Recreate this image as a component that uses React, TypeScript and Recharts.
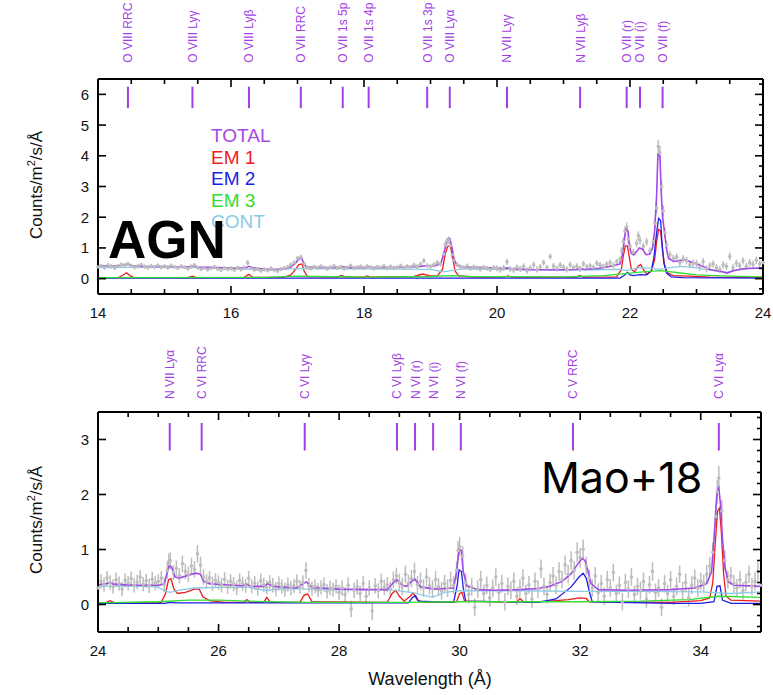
import React from 'react';
import {
  ComposedChart,
  Line,
  Scatter,
  ErrorBar,
  XAxis,
  YAxis,
  ReferenceLine,
  Legend
} from 'recharts';

const FONT = '"Liberation Sans", Arial, Helvetica, sans-serif';
const GRAY = '#bdbdbd';
const ID_COLOR = '#a23fe4';
// drawing order: first is at the back
const SERIES = [
  { key: 'em1', name: 'EM 1', color: '#ee1d1d', width: 1.3 },
  { key: 'em2', name: 'EM 2', color: '#1e1ee6', width: 1.3 },
  { key: 'em3', name: 'EM 3', color: '#33dd33', width: 1.3 },
  { key: 'cont', name: 'CONT', color: '#8ccbe6', width: 1.3 },
  { key: 'total', name: 'TOTAL', color: '#a548e6', width: 1.6 },
];
const LEGEND_ORDER = ['TOTAL', 'EM 1', 'EM 2', 'EM 3', 'CONT'];

// ---- axes ----
const topXTicks = [14, 14.5, 15, 15.5, 16, 16.5, 17, 17.5, 18, 18.5, 19, 19.5, 20, 20.5, 21, 21.5, 22, 22.5, 23, 23.5, 24];
const topXMajors = [14, 16, 18, 20, 22, 24];
const topYTicks = [0, 1, 2, 3, 4, 5, 6];
const topYMinor = [-0.333, 0, 0.333, 0.667, 1, 1.333, 1.667, 2, 2.333, 2.667, 3, 3.333, 3.667, 4, 4.333, 4.667, 5, 5.333, 5.667, 6, 6.333];

const botXTicks = [24, 24.5, 25, 25.5, 26, 26.5, 27, 27.5, 28, 28.5, 29, 29.5, 30, 30.5, 31, 31.5, 32, 32.5, 33, 33.5, 34, 34.5, 35];
const botXMajors = [24, 26, 28, 30, 32, 34];
const botYTicks = [0, 1, 2, 3];
const botYMinor = [-0.4, -0.2, 0, 0.2, 0.4, 0.6, 0.8, 1, 1.2, 1.4, 1.6, 1.8, 2, 2.2, 2.4, 2.6, 2.8, 3, 3.2, 3.4];

// ---- line identifications ----
const topLineNames = ['O VIII RRC', 'O VIII Lyγ', 'O VIII Lyβ', 'O VII RRC', 'O VII 1s 5p', 'O VII 1s 4p', 'O VII 1s 3p', 'O VIII Lyα', 'N VII Lyγ', 'N VII Lyβ', 'O VII (r)', 'O VII (i)', 'O VII (f)'];
const topLineWaves = [14.45, 15.42, 16.27, 17.05, 17.68, 18.07, 18.95, 19.29, 20.15, 21.25, 21.95, 22.15, 22.49];
const topMarkSpan = [5.55, 6.25];

const botLineNames = ['N VII Lyα', 'C VI RRC', 'C VI Lyγ', 'C VI Lyβ', 'N VI (r)', 'N VI (i)', 'N VI (f)', 'C V RRC', 'C VI Lyα'];
const botLineWaves = [25.19, 25.72, 27.43, 28.96, 29.26, 29.56, 30.02, 31.88, 34.3];
const botMarkSpan = [2.8, 3.3];

// ---- top panel (14-24 Å): observed [wavelength, flux, error] ----
const topObs = [
  [14.00, .38, .07], [14.05, .42, .07], [14.10, .36, .07], [14.15, .44, .07], [14.20, .40, .07], [14.25, .35, .07], [14.30, .41, .07], [14.35, .46, .07], [14.40, .43, .07], [14.45, .48, .07],
  [14.50, .42, .07], [14.55, .37, .07], [14.60, .40, .07], [14.65, .45, .07], [14.70, .39, .07], [14.75, .36, .07], [14.80, .41, .07], [14.85, .38, .07], [14.90, .43, .07], [14.95, .37, .07],
  [15.00, .40, .07], [15.05, .36, .07], [15.10, .42, .07], [15.15, .38, .07], [15.20, .35, .07], [15.25, .40, .07], [15.30, .37, .07], [15.35, .33, .07], [15.40, .39, .07], [15.45, .44, .07],
  [15.50, .36, .07], [15.55, .31, .07], [15.60, .35, .07], [15.65, .30, .07], [15.70, .34, .07], [15.75, .38, .07], [15.80, .32, .07], [15.85, .29, .07], [15.90, .34, .07], [15.95, .31, .07],
  [16.00, .33, .07], [16.05, .28, .07], [16.10, .35, .07], [16.15, .30, .07], [16.20, .36, .07], [16.25, .52, .08], [16.30, .34, .07], [16.35, .29, .07], [16.40, .31, .07], [16.45, .26, .07],
  [16.50, .30, .07], [16.55, .27, .07], [16.60, .33, .07], [16.65, .28, .07], [16.70, .25, .07], [16.75, .31, .07], [16.80, .34, .07], [16.85, .38, .07], [16.90, .45, .08], [16.95, .52, .08],
  [17.00, .66, .08], [17.05, .70, .08], [17.10, .48, .08], [17.15, .36, .07], [17.20, .33, .07], [17.25, .38, .07], [17.30, .35, .07], [17.35, .40, .07], [17.40, .36, .07], [17.45, .32, .07],
  [17.50, .37, .07], [17.55, .41, .07], [17.60, .35, .07], [17.65, .38, .07], [17.70, .33, .07], [17.75, .36, .07], [17.80, .42, .07], [17.85, .34, .07], [17.90, .37, .07], [17.95, .39, .07],
  [18.00, .35, .07], [18.05, .40, .07], [18.10, .37, .07], [18.15, .33, .07], [18.20, .38, .07], [18.25, .36, .07], [18.30, .41, .07], [18.35, .34, .07], [18.40, .39, .07], [18.45, .35, .07],
  [18.50, .37, .07], [18.55, .42, .07], [18.60, .36, .07], [18.65, .40, .07], [18.70, .38, .07], [18.75, .44, .08], [18.80, .39, .08], [18.85, .47, .08], [18.90, .58, .08], [18.95, .43, .08],
  [19.00, .40, .08], [19.05, .45, .08], [19.10, .52, .08], [19.15, .48, .08], [19.20, .80, .1], [19.225, 1.10, .12], [19.25, 1.22, .12], [19.275, 1.25, .12], [19.30, 1.08, .12], [19.325, .78, .1],
  [19.35, .60, .09], [19.40, .45, .08], [19.45, .38, .08], [19.50, .36, .08], [19.55, .41, .08], [19.60, .33, .08], [19.65, .38, .08], [19.70, .35, .08], [19.75, .31, .08], [19.80, .37, .08],
  [19.85, .34, .08], [19.90, .30, .08], [19.95, .36, .08],
  [20.00, .33, .1], [20.05, .29, .1], [20.10, .35, .1], [20.15, .55, .1], [20.20, .31, .1], [20.25, .28, .1], [20.30, .36, .1], [20.35, .32, .1], [20.40, .40, .1], [20.45, .26, .1],
  [20.50, .34, .1], [20.55, .45, .1], [20.60, .30, .1], [20.65, .38, .1], [20.70, .52, .1], [20.75, .35, .1], [20.80, .72, .1], [20.85, .41, .1], [20.90, .33, .1], [20.95, .44, .1],
  [21.00, .37, .1], [21.05, .30, .1], [21.10, .45, .1], [21.15, .35, .1], [21.20, .40, .1], [21.25, .32, .1], [21.30, .48, .1], [21.35, .38, .1], [21.40, .42, .1], [21.45, .36, .1],
  [21.50, .50, .1], [21.55, .44, .1], [21.60, .39, .1], [21.65, .47, .1], [21.70, .52, .1], [21.75, .43, .1], [21.80, .55, .1], [21.85, .62, .11], [21.875, .90, .12], [21.90, 1.20, .14],
  [21.925, 1.55, .15], [21.95, 1.68, .15], [21.975, 1.30, .14],
  [22.00, 1.05, .13], [22.05, .85, .12], [22.10, 1.15, .13], [22.125, 1.40, .14], [22.15, 1.25, .13], [22.20, 1.05, .13], [22.25, 1.20, .13], [22.30, .90, .12], [22.35, 1.20, .13], [22.375, 1.80, .16],
  [22.40, 2.30, .18], [22.425, 4.30, .22], [22.45, 4.10, .22], [22.475, 3.00, .2], [22.50, 2.20, .18], [22.525, 1.50, .15], [22.55, 1.10, .13], [22.60, .78, .12], [22.65, .65, .12], [22.70, .70, .12],
  [22.75, .52, .12], [22.80, .64, .12], [22.85, .58, .12], [22.90, .45, .12], [22.95, .50, .12],
  [23.00, .50, .12], [23.05, .38, .12], [23.10, .55, .12], [23.15, .32, .12], [23.20, .42, .12], [23.25, .48, .12], [23.30, .35, .12], [23.35, .30, .12], [23.40, .45, .12], [23.45, .40, .12],
  [23.50, .72, .12], [23.55, .35, .12], [23.60, .50, .12], [23.65, .42, .12], [23.70, .58, .12], [23.75, .40, .12], [23.80, .52, .12], [23.85, .46, .12], [23.90, .60, .12], [23.95, .48, .12],
  [24.00, .52, .12],
];

const topTotal = [
  [14.00, .42], [14.20, .41], [14.32, .42], [14.40, .46], [14.46, .47], [14.52, .42], [14.70, .40], [15.00, .39], [15.35, .38], [15.42, .42],
  [15.48, .38], [15.80, .36], [16.10, .34], [16.22, .35], [16.27, .40], [16.33, .35], [16.50, .31], [16.65, .30], [16.80, .32], [16.90, .38],
  [16.97, .50], [17.02, .64], [17.06, .68], [17.09, .52], [17.13, .38], [17.40, .36], [17.63, .36], [17.68, .39], [17.73, .36], [18.02, .36],
  [18.07, .38], [18.12, .36], [18.60, .37], [18.85, .40], [18.95, .42], [19.08, .42], [19.16, .52], [19.21, .90], [19.25, 1.26], [19.29, 1.30],
  [19.32, 1.05], [19.35, .68], [19.39, .45], [19.48, .38], [19.80, .36], [20.10, .33], [20.16, .35], [20.22, .31], [20.60, .29], [21.00, .29],
  [21.20, .30], [21.25, .34], [21.31, .30], [21.55, .34], [21.75, .42], [21.85, .48], [21.89, .80], [21.92, 1.35], [21.94, 1.63], [21.97, 1.55],
  [21.99, 1.10], [22.02, .82], [22.06, .78], [22.10, .88], [22.14, 1.00], [22.19, .96], [22.24, .78], [22.30, .80], [22.34, 1.00], [22.37, 1.55],
  [22.40, 2.70], [22.42, 4.05], [22.45, 4.00], [22.47, 2.80], [22.49, 2.00], [22.52, 1.50], [22.55, .95], [22.58, .66], [22.66, .56], [22.75, .58],
  [22.82, .62], [22.92, .54], [23.05, .44], [23.20, .30], [23.38, .23], [23.46, .18], [23.55, .26], [23.72, .33], [23.88, .34], [24.00, .35],
];

const topEm1 = [
  [14.00, .03], [14.30, .03], [14.38, .12], [14.43, .19], [14.48, .10], [14.55, .03], [15.35, .03], [15.42, .08], [15.48, .03], [16.20, .04],
  [16.27, .14], [16.33, .04], [16.80, .05], [16.90, .12], [16.97, .30], [17.02, .46], [17.07, .48], [17.10, .25], [17.15, .07], [17.60, .05],
  [17.66, .10], [17.72, .05], [18.00, .05], [18.05, .09], [18.10, .05], [18.75, .07], [18.88, .15], [18.98, .10], [19.10, .08], [19.18, .30],
  [19.22, .80], [19.26, 1.05], [19.30, 1.08], [19.33, .70], [19.37, .25], [19.42, .10], [19.60, .06], [19.80, .05], [20.12, .06], [20.17, .09],
  [20.22, .05], [21.20, .05], [21.24, .10], [21.30, .05], [21.80, .06], [21.87, .30], [21.90, .75], [21.93, 1.07], [21.96, 1.07], [21.99, .70],
  [22.02, .30], [22.07, .22], [22.12, .40], [22.16, .46], [22.20, .30], [22.25, .15], [22.32, .25], [22.37, .60], [22.40, 1.20], [22.43, 1.60],
  [22.46, 1.55], [22.49, .90], [22.52, .45], [22.56, .20], [22.65, .10], [22.90, .08], [23.20, .05], [24.00, .04],
];

const topEm2 = [
  [14.00, .02], [21.85, .02], [21.92, .12], [21.96, .20], [22.00, .12], [22.05, .10], [22.15, .13], [22.25, .12], [22.32, .25], [22.36, .70],
  [22.40, 1.50], [22.43, 1.96], [22.46, 1.90], [22.48, 1.20], [22.51, .50], [22.55, .18], [22.62, .06], [22.80, .03], [24.00, .02],
];

const topEm3 = [
  [14.00, .03], [16.50, .04], [17.00, .08], [17.30, .07], [18.00, .05], [19.00, .07], [19.30, .10], [19.60, .07], [21.00, .06], [21.60, .10],
  [22.00, .18], [22.20, .22], [22.45, .26], [22.70, .20], [23.00, .12], [23.50, .08], [24.00, .06],
];

const topCont = [
  [14.00, .36], [14.50, .37], [15.00, .37], [15.50, .36], [16.00, .33], [16.30, .30], [16.60, .28], [16.90, .32], [17.10, .33], [17.50, .33],
  [18.00, .32], [18.50, .31], [19.00, .30], [19.20, .22], [19.35, .28], [19.50, .32], [20.00, .31], [20.50, .29], [21.00, .28], [21.50, .29],
  [21.85, .30], [21.95, .26], [22.05, .32], [22.15, .36], [22.30, .34], [22.45, .30], [22.60, .36], [22.80, .40], [23.00, .35], [23.20, .28],
  [23.45, .20], [23.60, .28], [23.80, .33], [24.00, .34],
];

// ---- bottom panel (24-35 Å) ----
const botObs = [
  [24.00, .30, .13], [24.05, .42, .13], [24.10, .36, .13], [24.15, .48, .13], [24.20, .40, .13], [24.25, .33, .13], [24.30, .45, .13], [24.35, .38, .13], [24.40, .28, .13], [24.45, .44, .13],
  [24.50, .39, .13], [24.55, .47, .13], [24.60, .35, .13], [24.65, .41, .13], [24.70, .50, .13], [24.75, .37, .13], [24.80, .43, .13], [24.85, .34, .13], [24.90, .46, .13], [24.95, .39, .13],
  [25.00, .42, .13], [25.05, .48, .13], [25.10, .36, .13], [25.15, .62, .15], [25.175, .78, .15], [25.20, .80, .15], [25.25, .58, .14], [25.30, .66, .14], [25.35, .52, .14], [25.40, .74, .15],
  [25.45, .60, .14], [25.50, .55, .14], [25.55, .70, .15], [25.60, .64, .15], [25.65, .92, .16], [25.70, .72, .15], [25.75, .50, .14], [25.80, .42, .13], [25.85, .48, .13], [25.90, .38, .13],
  [25.95, .44, .13],
  [26.00, .40, .13], [26.05, .35, .13], [26.10, .46, .13], [26.15, .32, .13], [26.20, .42, .13], [26.25, .37, .13], [26.30, .30, .13], [26.35, .44, .13], [26.40, .38, .13], [26.45, .34, .13],
  [26.50, .48, .13], [26.55, .33, .13], [26.60, .39, .13], [26.65, .29, .13], [26.70, .43, .13], [26.75, .36, .13], [26.80, .31, .13], [26.85, .40, .13], [26.90, .35, .13], [26.95, .28, .13],
  [27.00, .38, .13], [27.05, .33, .13], [27.10, .27, .13], [27.15, .36, .13], [27.20, .30, .13], [27.25, .34, .13], [27.30, .42, .13], [27.35, .32, .13], [27.40, .40, .13], [27.45, .62, .15],
  [27.50, .35, .13], [27.55, .29, .13], [27.60, .33, .13], [27.65, .26, .13], [27.70, .31, .13], [27.75, .36, .13], [27.80, .24, .13], [27.85, .30, .13], [27.90, .27, .13], [27.95, .33, .13],
  [28.00, .22, .14], [28.05, .30, .14], [28.10, .18, .14], [28.15, .35, .14], [28.20, -.08, .15], [28.25, .26, .14], [28.30, .32, .14], [28.35, .20, .14], [28.40, .38, .14], [28.45, .15, .14],
  [28.50, .30, .14], [28.55, -.12, .16], [28.60, .34, .14], [28.65, .25, .14], [28.70, .42, .14], [28.75, .31, .14], [28.80, .36, .14], [28.85, .28, .14], [28.90, .45, .15], [28.95, .52, .15],
  [29.00, .40, .16], [29.05, .33, .16], [29.10, .55, .16], [29.15, .38, .16], [29.20, .47, .16], [29.25, .60, .16], [29.30, .36, .16], [29.35, .42, .16], [29.40, .30, .16], [29.45, .50, .16],
  [29.50, .34, .16], [29.55, .28, .16], [29.60, .45, .16], [29.65, .32, .16], [29.70, .25, .16], [29.75, .38, .16], [29.80, .30, .16], [29.85, .44, .16], [29.90, .35, .16], [29.95, .62, .17],
  [29.975, .98, .18], [30.00, 1.05, .18], [30.05, .88, .18], [30.10, .40, .16], [30.15, .18, .16], [30.20, .32, .16], [30.25, -.05, .16], [30.30, .28, .16], [30.35, .45, .16], [30.40, .20, .16],
  [30.45, .35, .16], [30.50, .12, .16], [30.55, .30, .16], [30.60, .50, .16], [30.65, .22, .16], [30.70, .38, .16], [30.75, .05, .16], [30.80, .33, .16], [30.85, .26, .16], [30.90, .42, .16],
  [30.95, .15, .16],
  [31.00, .30, .16], [31.05, .48, .16], [31.10, .20, .16], [31.15, .36, .16], [31.20, .10, .16], [31.25, .42, .16], [31.30, .28, .16], [31.35, .65, .17], [31.40, .33, .16], [31.45, .18, .16],
  [31.50, .40, .16], [31.55, .52, .16], [31.60, .35, .16], [31.65, .60, .17], [31.70, .45, .16], [31.75, .72, .17], [31.80, .55, .17], [31.85, .80, .17], [31.90, .62, .17], [31.95, .95, .18],
  [32.00, .85, .18], [32.05, 1.00, .18], [32.10, .70, .17], [32.15, .48, .16], [32.20, .30, .16], [32.25, .52, .16], [32.30, .22, .16], [32.35, .38, .16], [32.40, .15, .16], [32.45, .45, .16],
  [32.50, .30, .16], [32.55, .58, .16], [32.60, .20, .16], [32.65, .35, .16], [32.70, .05, .16], [32.75, .40, .16], [32.80, .28, .16], [32.85, .50, .16], [32.90, .18, .16], [32.95, .33, .16],
  [33.00, .25, .16], [33.05, .42, .16], [33.10, .10, .16], [33.15, .36, .16], [33.20, .60, .17], [33.25, .22, .16], [33.30, .30, .16], [33.35, -.05, .16], [33.40, .38, .16], [33.45, .20, .16],
  [33.50, .45, .16], [33.55, .15, .16], [33.60, .33, .16], [33.65, .55, .16], [33.70, .25, .16], [33.75, .40, .16], [33.80, .12, .16], [33.85, .35, .16], [33.90, .48, .16], [33.95, .30, .16],
  [34.00, .42, .16], [34.05, .38, .16], [34.10, .55, .17], [34.15, .70, .17], [34.20, .95, .18], [34.25, 1.60, .2], [34.275, 2.05, .22], [34.30, 2.30, .22], [34.35, 1.70, .2], [34.40, .80, .18],
  [34.45, .45, .16], [34.50, .52, .16], [34.55, .38, .16], [34.60, .30, .16], [34.65, .45, .16], [34.70, .25, .16], [34.75, .40, .16], [34.80, .55, .16], [34.85, .33, .16], [34.90, .42, .16],
  [34.95, .60, .17], [35.00, .35, .16],
];

const botTotal = [
  [24.00, .36], [24.15, .38], [24.20, .40], [24.25, .37], [24.60, .35], [25.00, .35], [25.10, .37], [25.14, .55], [25.18, .70], [25.22, .68],
  [25.28, .50], [25.35, .48], [25.50, .53], [25.62, .57], [25.70, .55], [25.75, .42], [25.85, .38], [26.10, .36], [26.40, .34], [26.47, .37],
  [26.53, .33], [26.75, .33], [26.82, .38], [26.90, .33], [27.30, .30], [27.40, .38], [27.46, .41], [27.55, .31], [28.00, .28], [28.50, .27],
  [28.80, .27], [28.90, .40], [28.96, .45], [29.05, .35], [29.12, .33], [29.20, .42], [29.26, .46], [29.35, .32], [29.60, .28], [29.90, .30],
  [29.95, .60], [29.99, 1.00], [30.03, .98], [30.06, .60], [30.12, .34], [30.30, .27], [30.60, .26], [31.00, .27], [31.30, .29], [31.50, .33],
  [31.70, .42], [31.85, .56], [31.95, .72], [32.03, .84], [32.08, .80], [32.13, .60], [32.18, .38], [32.30, .27], [32.80, .26], [33.50, .27],
  [33.90, .30], [34.10, .38], [34.18, .60], [34.22, 1.20], [34.27, 2.05], [34.30, 2.12], [34.33, 1.80], [34.36, 1.20], [34.40, .70], [34.45, .42],
  [34.55, .35], [35.00, .33],
];

const botEm1 = [
  [24.00, .02], [24.12, .03], [24.20, .07], [24.28, .03], [25.05, .04], [25.12, .20], [25.17, .45], [25.21, .47], [25.26, .28], [25.32, .20],
  [25.45, .22], [25.60, .28], [25.68, .28], [25.74, .14], [25.85, .07], [26.10, .04], [26.42, .04], [26.47, .09], [26.52, .04], [26.75, .04],
  [26.80, .13], [26.86, .04], [27.35, .04], [27.42, .17], [27.48, .19], [27.55, .05], [28.80, .04], [28.88, .20], [28.94, .26], [29.00, .15],
  [29.08, .06], [29.18, .15], [29.23, .21], [29.30, .08], [29.40, .04], [29.95, .05], [30.00, .20], [30.04, .22], [30.08, .06], [30.95, .04],
  [31.00, .11], [31.07, .04], [31.50, .06], [31.80, .09], [32.00, .12], [32.10, .11], [32.15, .05], [33.50, .04], [34.00, .07], [34.15, .12],
  [34.20, .40], [34.24, 1.10], [34.28, 1.70], [34.31, 1.75], [34.34, 1.35], [34.38, .55], [34.42, .15], [34.50, .08], [35.00, .06],
];

const botEm2 = [
  [24.00, .02], [25.10, .02], [25.20, .04], [25.30, .03], [29.15, .03], [29.22, .13], [29.27, .16], [29.32, .06], [29.90, .04], [29.96, .35],
  [29.99, .63], [30.03, .60], [30.06, .30], [30.10, .06], [31.30, .04], [31.60, .10], [31.85, .32], [31.98, .50], [32.05, .57], [32.10, .48],
  [32.16, .20], [32.20, .05], [33.50, .02], [34.00, .02], [34.22, .05], [34.27, .33], [34.32, .34], [34.36, .08], [34.50, .02], [35.00, .02],
];

const botEm3 = [
  [24.00, .03], [25.00, .05], [25.50, .08], [26.00, .08], [26.50, .06], [27.50, .04], [29.00, .04], [30.00, .05], [31.00, .05], [32.00, .05],
  [33.00, .06], [33.80, .09], [34.30, .15], [35.00, .13],
];

const botCont = [
  [24.00, .33], [24.50, .34], [25.00, .32], [25.10, .25], [25.20, .22], [25.35, .26], [25.60, .30], [26.00, .31], [26.50, .31], [26.80, .25],
  [27.00, .29], [27.50, .28], [28.00, .27], [28.50, .27], [28.90, .26], [29.20, .22], [29.55, .13], [29.75, .22], [30.00, .25], [30.50, .25],
  [31.00, .25], [32.00, .24], [33.00, .24], [34.00, .23], [34.50, .20], [35.00, .23],
];

const toXY = (rows: number[][]) => rows.map(([x, y]) => ({ x, y }));
const toObs = (rows: number[][]) => rows.map(([x, y, e]) => ({ x, y, e }));
const toIds = (names: string[], waves: number[], top: number) =>
  names.map((name, i) => ({ name, x: waves[i], y: top }));

// ---- ticks: all drawn inward from the frame ----
const BottomTick = ({ x, y, payload, majors }: any) => {
  const major = majors.includes(payload.value);
  return (
    <g>
      <line x1={x} y1={y} x2={x} y2={y - (major ? 8 : 5)} stroke="#000" strokeWidth={1.6} />
      {major && (
        <text x={x} y={y + 24} textAnchor="middle" fontSize={15} fontFamily={FONT} fill="#111">
          {payload.value}
        </text>
      )}
    </g>
  );
};

const TopTick = ({ x, y, payload, majors }: any) => {
  const major = majors.includes(payload.value);
  return (
    <g>
      <line x1={x} y1={y} x2={x} y2={y + (major ? 8 : 5)} stroke="#000" strokeWidth={1.6} />
    </g>
  );
};

const LeftTick = ({ x, y, payload }: any) => (
  <g>
    <line x1={x} y1={y} x2={x + 8} y2={y} stroke="#000" strokeWidth={1.6} />
    <text x={x - 9} y={y + 5.5} textAnchor="end" fontSize={15} fontFamily={FONT} fill="#111">
      {payload.value}
    </text>
  </g>
);

const RightTick = ({ x, y, payload }: any) => {
  const major = Math.abs(payload.value - Math.round(payload.value)) < 1e-6;
  return (
    <g>
      <line x1={x} y1={y} x2={x - (major ? 8 : 4)} y2={y} stroke="#000" strokeWidth={1.6} />
    </g>
  );
};

const ObsDot = (p: any) => <circle cx={p.cx} cy={p.cy} r={1.8} fill={GRAY} />;

const IdLabel = (p: any) => (
  <text
    transform={`translate(${p.cx + 4.5},${p.cy - 24}) rotate(-90)`}
    fontSize={12}
    fontFamily={FONT}
    fill={ID_COLOR}
  >
    {p.payload.name}
  </text>
);

const LegendList = ({ payload }: any) => {
  const items = LEGEND_ORDER.map((n) => (payload || []).find((p: any) => p.value === n)).filter(Boolean);
  return (
    <div style={{ fontFamily: FONT, fontSize: 19, lineHeight: '21.5px', whiteSpace: 'nowrap' }}>
      {items.map((p: any) => (
        <div key={p.value} style={{ color: p.color }}>{p.value}</div>
      ))}
    </div>
  );
};

interface PanelProps {
  height: number;
  margin: { top: number; right: number; bottom: number; left: number };
  xDomain: number[];
  yDomain: number[];
  xTicks: number[];
  xMajors: number[];
  yTicks: number[];
  yMinor: number[];
  obs: number[][];
  curves: Record<string, number[][]>;
  ids: { name: string; x: number; y: number }[];
  markSpan: number[];
  showLegend?: boolean;
}

const Panel: React.FC<PanelProps> = ({
  height, margin, xDomain, yDomain, xTicks, xMajors, yTicks, yMinor, obs, curves, ids, markSpan, showLegend
}) => (
  <ComposedChart width={773} height={height} margin={margin}>
    <XAxis
      dataKey="x" type="number" domain={xDomain} ticks={xTicks} interval={0}
      height={26} axisLine={false} tickLine={false} tickSize={0} tickMargin={0}
      tick={(p: any) => <BottomTick {...p} majors={xMajors} />}
    />
    <XAxis
      xAxisId="top" orientation="top" dataKey="x" type="number" domain={xDomain} ticks={xTicks} interval={0}
      height={1} axisLine={false} tickLine={false} tickSize={0} tickMargin={0}
      tick={(p: any) => <TopTick {...p} majors={xMajors} />}
    />
    <YAxis
      dataKey="y" type="number" domain={yDomain} ticks={yTicks} interval={0}
      width={98} axisLine={false} tickLine={false} tickSize={0} tickMargin={0}
      tick={(p: any) => <LeftTick {...p} />}
    />
    <YAxis
      yAxisId="right" orientation="right" dataKey="y" type="number" domain={yDomain} ticks={yMinor} interval={0}
      width={1} axisLine={false} tickLine={false} tickSize={0} tickMargin={0}
      tick={(p: any) => <RightTick {...p} />}
    />

    <Scatter data={toObs(obs)} dataKey="y" shape={ObsDot} legendType="none" isAnimationActive={false}>
      <ErrorBar dataKey="e" direction="y" width={0} stroke={GRAY} strokeWidth={1.5} />
    </Scatter>

    {SERIES.map((s) => (
      <Line
        key={s.key}
        data={toXY(curves[s.key])}
        dataKey="y"
        name={s.name}
        type="linear"
        stroke={s.color}
        strokeWidth={s.width}
        dot={false}
        activeDot={false}
        isAnimationActive={false}
      />
    ))}

    {ids.map((d) => (
      <ReferenceLine
        key={d.name}
        segment={[{ x: d.x, y: markSpan[0] }, { x: d.x, y: markSpan[1] }]}
        stroke={ID_COLOR}
        strokeWidth={2}
      />
    ))}
    <Scatter
      xAxisId="top" yAxisId="right" data={ids} dataKey="y"
      shape={IdLabel} legendType="none" isAnimationActive={false}
    />

    {/* plot frame on the domain edges */}
    <ReferenceLine segment={[{ x: xDomain[0], y: yDomain[0] }, { x: xDomain[1], y: yDomain[0] }]} stroke="#000" strokeWidth={2} />
    <ReferenceLine segment={[{ x: xDomain[0], y: yDomain[1] }, { x: xDomain[1], y: yDomain[1] }]} stroke="#000" strokeWidth={2} />
    <ReferenceLine segment={[{ x: xDomain[0], y: yDomain[0] }, { x: xDomain[0], y: yDomain[1] }]} stroke="#000" strokeWidth={2} />
    <ReferenceLine segment={[{ x: xDomain[1], y: yDomain[0] }, { x: xDomain[1], y: yDomain[1] }]} stroke="#000" strokeWidth={2} />

    {showLegend && (
      <Legend
        layout="vertical" align="center" verticalAlign="middle"
        content={LegendList}
        wrapperStyle={{ left: 211, top: 125, width: 'auto', height: 'auto' }}
      />
    )}
  </ComposedChart>
);

export default function App() {
  return (
    <div style={{ position: 'absolute', left: 0, top: 0, width: 773, height: 695, background: '#fff' }}>
      <div style={{ position: 'absolute', left: 0, top: 0 }}>
        <Panel
          height={320}
          margin={{ top: 78, right: 9, bottom: 0, left: 0 }}
          xDomain={[14, 24]}
          yDomain={[-0.5, 6.5]}
          xTicks={topXTicks}
          xMajors={topXMajors}
          yTicks={topYTicks}
          yMinor={topYMinor}
          obs={topObs}
          curves={{ total: topTotal, em1: topEm1, em2: topEm2, em3: topEm3, cont: topCont }}
          ids={toIds(topLineNames, topLineWaves, topMarkSpan[1])}
          markSpan={topMarkSpan}
          showLegend
        />
      </div>
      <div style={{ position: 'absolute', left: 0, top: 330 }}>
        <Panel
          height={365}
          margin={{ top: 81, right: 11, bottom: 37, left: 0 }}
          xDomain={[24, 35]}
          yDomain={[-0.5, 3.5]}
          xTicks={botXTicks}
          xMajors={botXMajors}
          yTicks={botYTicks}
          yMinor={botYMinor}
          obs={botObs}
          curves={{ total: botTotal, em1: botEm1, em2: botEm2, em3: botEm3, cont: botCont }}
          ids={toIds(botLineNames, botLineWaves, botMarkSpan[1])}
          markSpan={botMarkSpan}
        />
      </div>

      {/* titles and annotations */}
      <svg width={773} height={695} style={{ position: 'absolute', left: 0, top: 0, pointerEvents: 'none' }}>
        <text x={108} y={258} fontSize={53} fontWeight="bold" fontFamily={FONT} fill="#000">AGN</text>
        <text x={541} y={493} fontSize={43} fontFamily='Inter, "Liberation Sans", sans-serif' fill="#000">Mao+18</text>
        <text transform="translate(42,185) rotate(-90)" textAnchor="middle" fontSize={17} fontFamily={FONT} fill="#111">
          Counts/m<tspan dy={-7} fontSize={11}>2</tspan><tspan dy={7}>/s/Å</tspan>
        </text>
        <text transform="translate(42,520) rotate(-90)" textAnchor="middle" fontSize={17} fontFamily={FONT} fill="#111">
          Counts/m<tspan dy={-7} fontSize={11}>2</tspan><tspan dy={7}>/s/Å</tspan>
        </text>
        <text x={430} y={685} textAnchor="middle" fontSize={18} fontFamily={FONT} fill="#111">Wavelength (Å)</text>
      </svg>
    </div>
  );
}
